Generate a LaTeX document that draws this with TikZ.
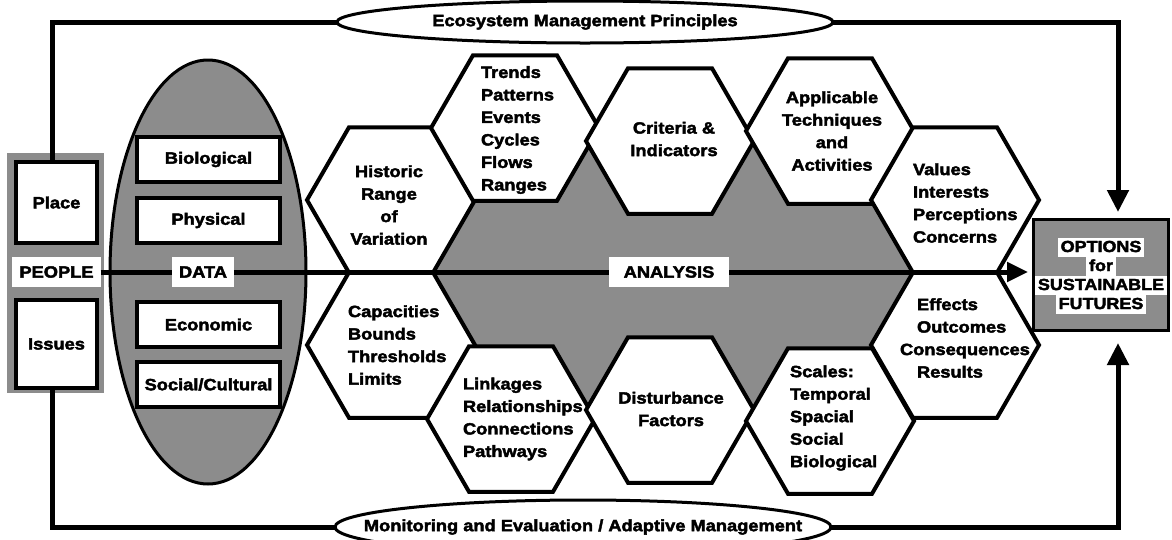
\documentclass[tikz,border=0pt]{standalone}
\usepackage{fontspec}
\setmainfont{Liberation Sans}[BoldFeatures={FakeBold=2.6,FakeStretch=1.12}]
\usetikzlibrary{shapes.geometric}
\usetikzlibrary{arrows.meta}

\setlength{\fboxsep}{0pt}
\newcommand{\tira}[1]{\colorbox{white}{\rule[-5pt]{0pt}{19pt}\hspace{3pt}#1\hspace{3pt}}}

\begin{document}
\begin{tikzpicture}[
      x=1pt, y=-1pt,
      font=\bfseries\fontsize{16.3}{22.5}\selectfont,
      every node/.style={inner sep=0pt, outer sep=0pt},
      pontilhado/.style={fill=black!45},
      caixa/.style={draw, line width=4pt, fill=white, minimum width=81pt},
      favo/.style={regular polygon, regular polygon sides=6, minimum size=168pt,
        draw, line width=4pt, fill=white},
      faixa/.style={fill=white, inner xsep=7pt, minimum height=30pt},
      balao/.style={ellipse, draw, line width=3pt, fill=white, minimum width=496pt},
      fluxo/.style={line width=5pt},
      seta/.style={line width=5pt, -{Triangle[width=21pt,length=22pt]}}
    ]
    \useasboundingbox (0,0) rectangle (1172,539);

    % Painel da esquerda
    \fill[pontilhado] (7,153) rectangle (104,393);
    \node[caixa, minimum height=81pt] (place) at (56.5,202.5) {Place};
    \node[caixa, minimum height=88pt] (issues) at (56.5,344) {Issues};

    % Dados
    \node[ellipse, draw, line width=3pt, pontilhado,
      minimum width=196pt, minimum height=424pt] (dados) at (208,272) {};
    \node[caixa, minimum width=143pt, minimum height=45pt] (bio) at (208.5,159.5) {Biological};
    \node[caixa, minimum width=143pt, minimum height=45pt] (fis) at (208.5,220.5) {Physical};
    \node[caixa, minimum width=143pt, minimum height=45pt] (eco) at (208.5,324.5) {Economic};
    \node[caixa, minimum width=143pt, minimum height=45pt] (soc) at (208.5,384.5) {Social/Cultural};

    % Campo da analise
    \fill[pontilhado] (430,272) -- (478,140) -- (880,140) -- (913,272)
      -- (880,405) -- (478,405) -- cycle;

    \node[favo] (hist) at (391,200) {};
    \node[favo] (capac) at (391,345) {};
    \node[favo] (trend) at (515,128) {};
    \node[favo] (link) at (511,419) {};
    \node[favo] (crit) at (670,141) {};
    \node[favo] (dist) at (670,410) {};
    \node[favo] (apl) at (830,131) {};
    \node[favo] (escal) at (830,421) {};
    \node[favo] (valor) at (955,200) {};
    \node[favo] (efeito) at (955,345) {};

    \node[align=center] (hist-t) at (389,205) {Historic\\Range\\of\\Variation};
    \node[align=left, anchor=west] (trend-t) at (481,130) {Trends\\Patterns\\Events\\Cycles\\Flows\\Ranges};
    \node[align=center] (crit-t) at (674,139) {Criteria \&\\Indicators};
    \node[align=center] (apl-t) at (832,131) {Applicable\\Techniques\\and\\Activities};
    \node[align=left, anchor=west] (valor-t) at (913,203) {Values\\Interests\\Perceptions\\Concerns};
    \node[align=left, anchor=west] (capac-t) at (348,345) {Capacities\\Bounds\\Thresholds\\Limits};
    \node[align=left, anchor=west] (link-t) at (463,419) {Linkages\\Relationships\\Connections\\Pathways};
    \node[align=center] (dist-t) at (671,409) {Disturbance\\Factors};
    \node[align=left, anchor=west] (escal-t) at (790,418) {Scales:\\Temporal\\Spacial\\Social\\Biological};
    \node[align=left, anchor=west] (efeito-t) at (917,338) {Effects\\Outcomes\\\hspace*{-17pt}Consequences\\Results};

    % Opcoes
    \node[draw, line width=3pt, pontilhado, minimum width=135pt, minimum height=111pt] (opt) at (1101,275) {};
    \node[align=center, font=\bfseries\fontsize{16}{19}\selectfont] (opt-t) at (1101,276)
      {\tira{OPTIONS}\\\tira{for}\\\tira{SUSTAINABLE}\\\tira{FUTURES}};

    % Principios e monitoramento
    \node[balao, minimum height=42pt, label=center:{Ecosystem Management Principles}] (emp) at (585,22) {};
    \node[balao, minimum height=54pt, label=center:{Monitoring and Evaluation / Adaptive Management}] (mae) at (583,527) {};

    \coordinate (chegada-sup) at (1118,212);
    \coordinate (chegada-inf) at (1118,343);
    \coordinate (chegada-eixo) at (1028,272);

    \draw[fluxo] ([xshift=-4pt]place.north) |- (emp.west);
    \draw[seta] (emp.east) -| (chegada-sup);
    \draw[fluxo] ([xshift=-4pt]issues.south) |- (mae.west);
    \draw[seta] (mae.east) -| (chegada-inf);

    % Eixo principal
    \node[faixa] (people) at (56.5,272) {PEOPLE};
    \node[faixa] (data) at (203,272) {DATA};
    \node[faixa, inner xsep=15pt] (analise) at (669,272) {ANALYSIS};
    \draw[fluxo] (people.east) -- (data.west);
    \draw[fluxo] (data.east) -- (analise.west);
    \draw[line width=5pt, -{Triangle[width=19pt,length=21pt]}] (analise.east) -- (chegada-eixo);
  \end{tikzpicture}
\end{document}
